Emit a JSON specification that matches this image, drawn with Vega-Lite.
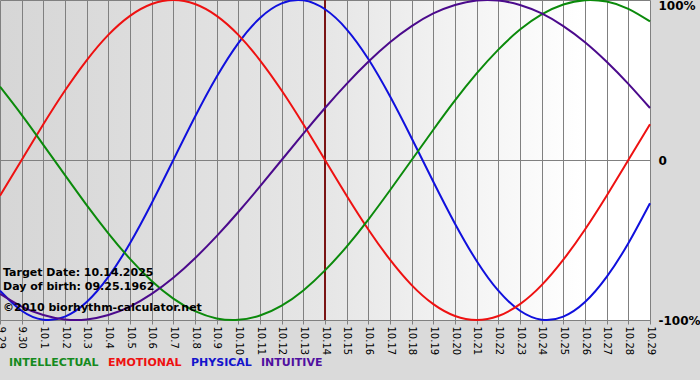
{
  "$schema": "https://vega.github.io/schema/vega-lite/v6.json",
  "width": 650,
  "height": 320,
  "autosize": {"type": "none"},
  "padding": {"left": 0, "top": 0, "right": 50, "bottom": 60},
  "background": "#dadada",
  "config": {
    "view": {"stroke": null, "fill": {"gradient": "linear", "x1": 0, "y1": 0, "x2": 1, "y2": 0, "stops": [{"offset": 0, "color": "#d6d6d6"}, {"offset": 0.5, "color": "#e6e6e6"}, {"offset": 0.9, "color": "#ffffff"}, {"offset": 1, "color": "#ffffff"}]}},
    "font": "DejaVu Sans"
  },
  "datasets": {
    "curves": [
      {"date": "9.29", "series": "PHYSICAL", "v": -0.817}, {"date": "9.30", "series": "PHYSICAL", "v": -0.942}, {"date": "10.1", "series": "PHYSICAL", "v": -0.998}, {"date": "10.2", "series": "PHYSICAL", "v": -0.979}, {"date": "10.3", "series": "PHYSICAL", "v": -0.888}, {"date": "10.4", "series": "PHYSICAL", "v": -0.731}, {"date": "10.5", "series": "PHYSICAL", "v": -0.52}, {"date": "10.6", "series": "PHYSICAL", "v": -0.27}, {"date": "10.7", "series": "PHYSICAL", "v": 0}, {"date": "10.8", "series": "PHYSICAL", "v": 0.27}, {"date": "10.9", "series": "PHYSICAL", "v": 0.52}, {"date": "10.10", "series": "PHYSICAL", "v": 0.731}, {"date": "10.11", "series": "PHYSICAL", "v": 0.888}, {"date": "10.12", "series": "PHYSICAL", "v": 0.979}, {"date": "10.13", "series": "PHYSICAL", "v": 0.998}, {"date": "10.14", "series": "PHYSICAL", "v": 0.942}, {"date": "10.15", "series": "PHYSICAL", "v": 0.817}, {"date": "10.16", "series": "PHYSICAL", "v": 0.631}, {"date": "10.17", "series": "PHYSICAL", "v": 0.398}, {"date": "10.18", "series": "PHYSICAL", "v": 0.136}, {"date": "10.19", "series": "PHYSICAL", "v": -0.136}, {"date": "10.20", "series": "PHYSICAL", "v": -0.398}, {"date": "10.21", "series": "PHYSICAL", "v": -0.631}, {"date": "10.22", "series": "PHYSICAL", "v": -0.817}, {"date": "10.23", "series": "PHYSICAL", "v": -0.942}, {"date": "10.24", "series": "PHYSICAL", "v": -0.998}, {"date": "10.25", "series": "PHYSICAL", "v": -0.979}, {"date": "10.26", "series": "PHYSICAL", "v": -0.888}, {"date": "10.27", "series": "PHYSICAL", "v": -0.731}, {"date": "10.28", "series": "PHYSICAL", "v": -0.52}, {"date": "10.29", "series": "PHYSICAL", "v": -0.27},
      {"date": "9.29", "series": "EMOTIONAL", "v": -0.223}, {"date": "9.30", "series": "EMOTIONAL", "v": 0}, {"date": "10.1", "series": "EMOTIONAL", "v": 0.223}, {"date": "10.2", "series": "EMOTIONAL", "v": 0.434}, {"date": "10.3", "series": "EMOTIONAL", "v": 0.623}, {"date": "10.4", "series": "EMOTIONAL", "v": 0.782}, {"date": "10.5", "series": "EMOTIONAL", "v": 0.901}, {"date": "10.6", "series": "EMOTIONAL", "v": 0.975}, {"date": "10.7", "series": "EMOTIONAL", "v": 1}, {"date": "10.8", "series": "EMOTIONAL", "v": 0.975}, {"date": "10.9", "series": "EMOTIONAL", "v": 0.901}, {"date": "10.10", "series": "EMOTIONAL", "v": 0.782}, {"date": "10.11", "series": "EMOTIONAL", "v": 0.623}, {"date": "10.12", "series": "EMOTIONAL", "v": 0.434}, {"date": "10.13", "series": "EMOTIONAL", "v": 0.223}, {"date": "10.14", "series": "EMOTIONAL", "v": 0}, {"date": "10.15", "series": "EMOTIONAL", "v": -0.223}, {"date": "10.16", "series": "EMOTIONAL", "v": -0.434}, {"date": "10.17", "series": "EMOTIONAL", "v": -0.623}, {"date": "10.18", "series": "EMOTIONAL", "v": -0.782}, {"date": "10.19", "series": "EMOTIONAL", "v": -0.901}, {"date": "10.20", "series": "EMOTIONAL", "v": -0.975}, {"date": "10.21", "series": "EMOTIONAL", "v": -1}, {"date": "10.22", "series": "EMOTIONAL", "v": -0.975}, {"date": "10.23", "series": "EMOTIONAL", "v": -0.901}, {"date": "10.24", "series": "EMOTIONAL", "v": -0.782}, {"date": "10.25", "series": "EMOTIONAL", "v": -0.623}, {"date": "10.26", "series": "EMOTIONAL", "v": -0.434}, {"date": "10.27", "series": "EMOTIONAL", "v": -0.223}, {"date": "10.28", "series": "EMOTIONAL", "v": 0}, {"date": "10.29", "series": "EMOTIONAL", "v": 0.223},
      {"date": "9.29", "series": "INTELLECTUAL", "v": 0.458}, {"date": "9.30", "series": "INTELLECTUAL", "v": 0.282}, {"date": "10.1", "series": "INTELLECTUAL", "v": 0.095}, {"date": "10.2", "series": "INTELLECTUAL", "v": -0.095}, {"date": "10.3", "series": "INTELLECTUAL", "v": -0.282}, {"date": "10.4", "series": "INTELLECTUAL", "v": -0.458}, {"date": "10.5", "series": "INTELLECTUAL", "v": -0.618}, {"date": "10.6", "series": "INTELLECTUAL", "v": -0.756}, {"date": "10.7", "series": "INTELLECTUAL", "v": -0.866}, {"date": "10.8", "series": "INTELLECTUAL", "v": -0.945}, {"date": "10.9", "series": "INTELLECTUAL", "v": -0.99}, {"date": "10.10", "series": "INTELLECTUAL", "v": -0.999}, {"date": "10.11", "series": "INTELLECTUAL", "v": -0.972}, {"date": "10.12", "series": "INTELLECTUAL", "v": -0.91}, {"date": "10.13", "series": "INTELLECTUAL", "v": -0.815}, {"date": "10.14", "series": "INTELLECTUAL", "v": -0.69}, {"date": "10.15", "series": "INTELLECTUAL", "v": -0.541}, {"date": "10.16", "series": "INTELLECTUAL", "v": -0.372}, {"date": "10.17", "series": "INTELLECTUAL", "v": -0.189}, {"date": "10.18", "series": "INTELLECTUAL", "v": 0}, {"date": "10.19", "series": "INTELLECTUAL", "v": 0.189}, {"date": "10.20", "series": "INTELLECTUAL", "v": 0.372}, {"date": "10.21", "series": "INTELLECTUAL", "v": 0.541}, {"date": "10.22", "series": "INTELLECTUAL", "v": 0.69}, {"date": "10.23", "series": "INTELLECTUAL", "v": 0.815}, {"date": "10.24", "series": "INTELLECTUAL", "v": 0.91}, {"date": "10.25", "series": "INTELLECTUAL", "v": 0.972}, {"date": "10.26", "series": "INTELLECTUAL", "v": 0.999}, {"date": "10.27", "series": "INTELLECTUAL", "v": 0.99}, {"date": "10.28", "series": "INTELLECTUAL", "v": 0.945}, {"date": "10.29", "series": "INTELLECTUAL", "v": 0.866},
      {"date": "9.29", "series": "INTUITIVE", "v": -0.837}, {"date": "9.30", "series": "INTUITIVE", "v": -0.916}, {"date": "10.1", "series": "INTUITIVE", "v": -0.969}, {"date": "10.2", "series": "INTUITIVE", "v": -0.997}, {"date": "10.3", "series": "INTUITIVE", "v": -0.997}, {"date": "10.4", "series": "INTUITIVE", "v": -0.969}, {"date": "10.5", "series": "INTUITIVE", "v": -0.916}, {"date": "10.6", "series": "INTUITIVE", "v": -0.837}, {"date": "10.7", "series": "INTUITIVE", "v": -0.736}, {"date": "10.8", "series": "INTUITIVE", "v": -0.614}, {"date": "10.9", "series": "INTUITIVE", "v": -0.476}, {"date": "10.10", "series": "INTUITIVE", "v": -0.325}, {"date": "10.11", "series": "INTUITIVE", "v": -0.165}, {"date": "10.12", "series": "INTUITIVE", "v": 0}, {"date": "10.13", "series": "INTUITIVE", "v": 0.165}, {"date": "10.14", "series": "INTUITIVE", "v": 0.325}, {"date": "10.15", "series": "INTUITIVE", "v": 0.476}, {"date": "10.16", "series": "INTUITIVE", "v": 0.614}, {"date": "10.17", "series": "INTUITIVE", "v": 0.736}, {"date": "10.18", "series": "INTUITIVE", "v": 0.837}, {"date": "10.19", "series": "INTUITIVE", "v": 0.916}, {"date": "10.20", "series": "INTUITIVE", "v": 0.969}, {"date": "10.21", "series": "INTUITIVE", "v": 0.997}, {"date": "10.22", "series": "INTUITIVE", "v": 0.997}, {"date": "10.23", "series": "INTUITIVE", "v": 0.969}, {"date": "10.24", "series": "INTUITIVE", "v": 0.916}, {"date": "10.25", "series": "INTUITIVE", "v": 0.837}, {"date": "10.26", "series": "INTUITIVE", "v": 0.736}, {"date": "10.27", "series": "INTUITIVE", "v": 0.614}, {"date": "10.28", "series": "INTUITIVE", "v": 0.476}, {"date": "10.29", "series": "INTUITIVE", "v": 0.325}
    ],
    "notes": [
      {"date": "9.29", "v": -0.725, "label": "Target Date: 10.14.2025"},
      {"date": "9.29", "v": -0.8125, "label": "Day of birth: 09.25.1962"},
      {"date": "9.29", "v": -0.944, "label": "©2010 biorhythm-calculator.net"}
    ],
    "target": [{"date": "10.14"}]
  },
  "encoding": {
    "x": {
      "field": "date", "type": "ordinal", "title": null,
      "scale": {"type": "point", "padding": 0, "domain": ["9.29", "9.30", "10.1", "10.2", "10.3", "10.4", "10.5", "10.6", "10.7", "10.8", "10.9", "10.10", "10.11", "10.12", "10.13", "10.14", "10.15", "10.16", "10.17", "10.18", "10.19", "10.20", "10.21", "10.22", "10.23", "10.24", "10.25", "10.26", "10.27", "10.28", "10.29"]},
      "axis": {"labelAngle": 90, "labelAlign": "left", "labelBaseline": "middle", "labelFontSize": 10, "labelFont": "DejaVu Sans", "labelColor": "#000000", "labelPadding": 2, "labelOverlap": false, "tickSize": 4, "tickColor": "#808080", "domainColor": "#808080", "grid": true, "gridColor": "#808080", "gridOpacity": 1, "gridWidth": 1}
    }
  },
  "layer": [
    {
      "data": {"name": "target"},
      "mark": {"type": "rule", "color": "#7a1414", "strokeWidth": 2},
      "encoding": {}
    },
    {
      "data": {"name": "curves"},
      "mark": {"type": "line", "strokeWidth": 2, "interpolate": "natural"},
      "encoding": {
        "y": {
          "field": "v", "type": "quantitative", "title": null,
          "scale": {"domain": [-1, 1], "nice": false, "zero": false},
          "axis": {"orient": "right", "values": [-1, 0, 1], "labelExpr": "datum.value == 1 ? '100%' : datum.value == 0 ? '0' : '-100%'", "ticks": false, "domain": false, "labelFontWeight": "bold", "labelFontSize": 12, "labelFont": "DejaVu Sans", "labelColor": "#000000", "labelPadding": 8, "labelBaseline": {"condition": {"test": "datum.value == 1", "value": "top"}, "value": "middle"}, "grid": true, "gridColor": "#808080", "gridOpacity": 1, "gridWidth": 1}
        },
        "color": {
          "field": "series", "type": "nominal",
          "scale": {"domain": ["INTELLECTUAL", "EMOTIONAL", "PHYSICAL", "INTUITIVE"], "range": ["#0b8a0b", "#ee1111", "#1010dd", "#4b0a8c"]},
          "legend": {"orient": "none", "legendX": 8, "legendY": 357, "direction": "horizontal", "title": null, "padding": 0, "symbolSize": 0, "symbolStrokeWidth": 0, "symbolOpacity": 0, "labelOffset": -10, "columnPadding": 8, "labelFont": "DejaVu Sans", "labelFontSize": 11, "labelFontWeight": "bold", "labelBaseline": "middle",
            "labelColor": {"expr": "datum.value == 'INTELLECTUAL' ? '#158a20' : datum.value == 'EMOTIONAL' ? '#ee1111' : datum.value == 'PHYSICAL' ? '#1414cc' : '#5010a0'"}}
        }
      }
    },
    {
      "data": {"name": "notes"},
      "mark": {"type": "text", "align": "left", "baseline": "alphabetic", "dx": 3, "font": "DejaVu Sans", "fontSize": 11, "fontWeight": "bold", "color": "#000000"},
      "encoding": {
        "y": {"field": "v", "type": "quantitative"},
        "text": {"field": "label"}
      }
    }
  ]
}
